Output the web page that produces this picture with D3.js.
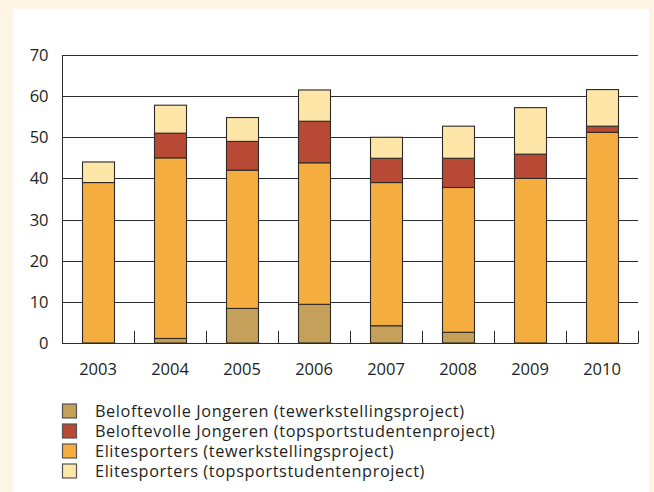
<!DOCTYPE html>
<html>
<head>
<meta charset="utf-8">
<script src="https://cdn.jsdelivr.net/npm/d3@7"></script>
<style>
  html, body { margin: 0; padding: 0; background: #fef5e4; }
  svg { display: block; }
  text { font-family: "Open Sans", "Noto Sans", sans-serif; fill: #231f20; }
</style>
</head>
<body>
<svg id="chart" width="654" height="492"></svg>
<script>
const years = ["2003", "2004", "2005", "2006", "2007", "2008", "2009", "2010"];
const seriesNames = [
  "Beloftevolle Jongeren (tewerkstellingsproject)",
  "Beloftevolle Jongeren (topsportstudentenproject)",
  "Elitesporters (tewerkstellingsproject)",
  "Elitesporters (topsportstudentenproject)"
];
const bjTewerk   = [0,   1.1, 8.4, 9.4, 4.2, 2.6, 0,    0];
const bjTopsport = [0,   6.0, 7.0, 10.1, 5.9, 7.1, 5.9, 1.5];
const esTewerk   = [39.0, 43.9, 33.6, 34.4, 34.8, 35.2, 40.0, 51.2];
const esTopsport = [5.0, 6.8, 5.8, 7.6, 5.1, 7.8, 11.3, 8.9];
const yTicks = [0, 10, 20, 30, 40, 50, 60, 70];
const colors = ["#c4a05a", "#b84a35", "#f5ad3f", "#fee5a8"];

// legend order keys, and the stacking order (bottom to top)
const keys = ["bjTewerk", "bjTopsport", "esTewerk", "esTopsport"];
const stackOrder = ["bjTewerk", "esTewerk", "bjTopsport", "esTopsport"];
const colorOf = d3.scaleOrdinal().domain(keys).range(colors);

const table = years.map((yr, i) => ({
  year: yr,
  bjTewerk: bjTewerk[i],
  bjTopsport: bjTopsport[i],
  esTewerk: esTewerk[i],
  esTopsport: esTopsport[i]
}));

const svg = d3.select("#chart");

// white panel
svg.append("rect").attr("x", 13).attr("y", 9).attr("width", 636).attr("height", 492)
  .attr("fill", "#ffffff");

const pLeft = 62, pRight = 638, pTop = 55, pBottom = 343;

const x = d3.scaleBand().domain(years).range([pLeft, pRight]).paddingInner(0.555).paddingOuter(0.2775);
const y = d3.scaleLinear().domain([0, 70]).range([pBottom, pTop]);

// gridlines
svg.append("g").selectAll("line").data(yTicks).join("line")
  .attr("x1", pLeft).attr("x2", pRight)
  .attr("y1", d => Math.round(y(d)) + 0.5).attr("y2", d => Math.round(y(d)) + 0.5)
  .attr("stroke", "#2b2b2b").attr("stroke-width", 1);

// y axis line
svg.append("line").attr("x1", pLeft + 0.5).attr("x2", pLeft + 0.5)
  .attr("y1", Math.round(y(70))).attr("y2", Math.round(y(0)) + 1)
  .attr("stroke", "#2b2b2b").attr("stroke-width", 1);

// x ticks at band boundaries
const boundaries = d3.range(1, years.length + 1).map(i => pLeft + i * (pRight - pLeft) / years.length);
svg.append("g").selectAll("line").data(boundaries).join("line")
  .attr("x1", d => Math.round(d) + 0.5).attr("x2", d => Math.round(d) + 0.5)
  .attr("y1", Math.round(y(0)) - 12).attr("y2", Math.round(y(0)) + 0.5)
  .attr("stroke", "#2b2b2b").attr("stroke-width", 1);

// y labels
svg.append("g").selectAll("text").data(yTicks).join("text")
  .attr("x", 48.5).attr("y", d => y(d)).attr("dy", "0.36em")
  .attr("text-anchor", "end").attr("font-size", 16.5)
  .text(d => d);

// x labels
svg.append("g").selectAll("text").data(years).join("text")
  .attr("x", d => x(d) + x.bandwidth() / 2).attr("y", 374.5)
  .attr("text-anchor", "middle").attr("font-size", 16.5)
  .text(d => d);

// stacked bars
const stack = d3.stack().keys(stackOrder)(table);
svg.append("g").selectAll("g").data(stack).join("g")
  .attr("fill", d => colorOf(d.key))
  .selectAll("rect").data(d => d.filter(s => s[1] - s[0] > 0)).join("rect")
  .attr("x", d => Math.round(x(d.data.year)) + 0.5)
  .attr("width", Math.round(x.bandwidth()))
  .attr("y", d => y(d[1]))
  .attr("height", d => y(d[0]) - y(d[1]))
  .attr("stroke", "#2e2a26").attr("stroke-width", 1.1);

// legend
const legend = svg.append("g");
seriesNames.forEach((name, i) => {
  const cy = 411 + i * 20;
  legend.append("rect").attr("x", 62.5).attr("y", cy - 7).attr("width", 14).attr("height", 14)
    .attr("fill", colorOf(keys[i])).attr("stroke", "#555").attr("stroke-width", 1.2);
  legend.append("text").attr("x", 95).attr("y", cy + 6)
    .attr("font-size", 16.3).attr("letter-spacing", 0.6).text(name);
});
</script>
</body>
</html>
